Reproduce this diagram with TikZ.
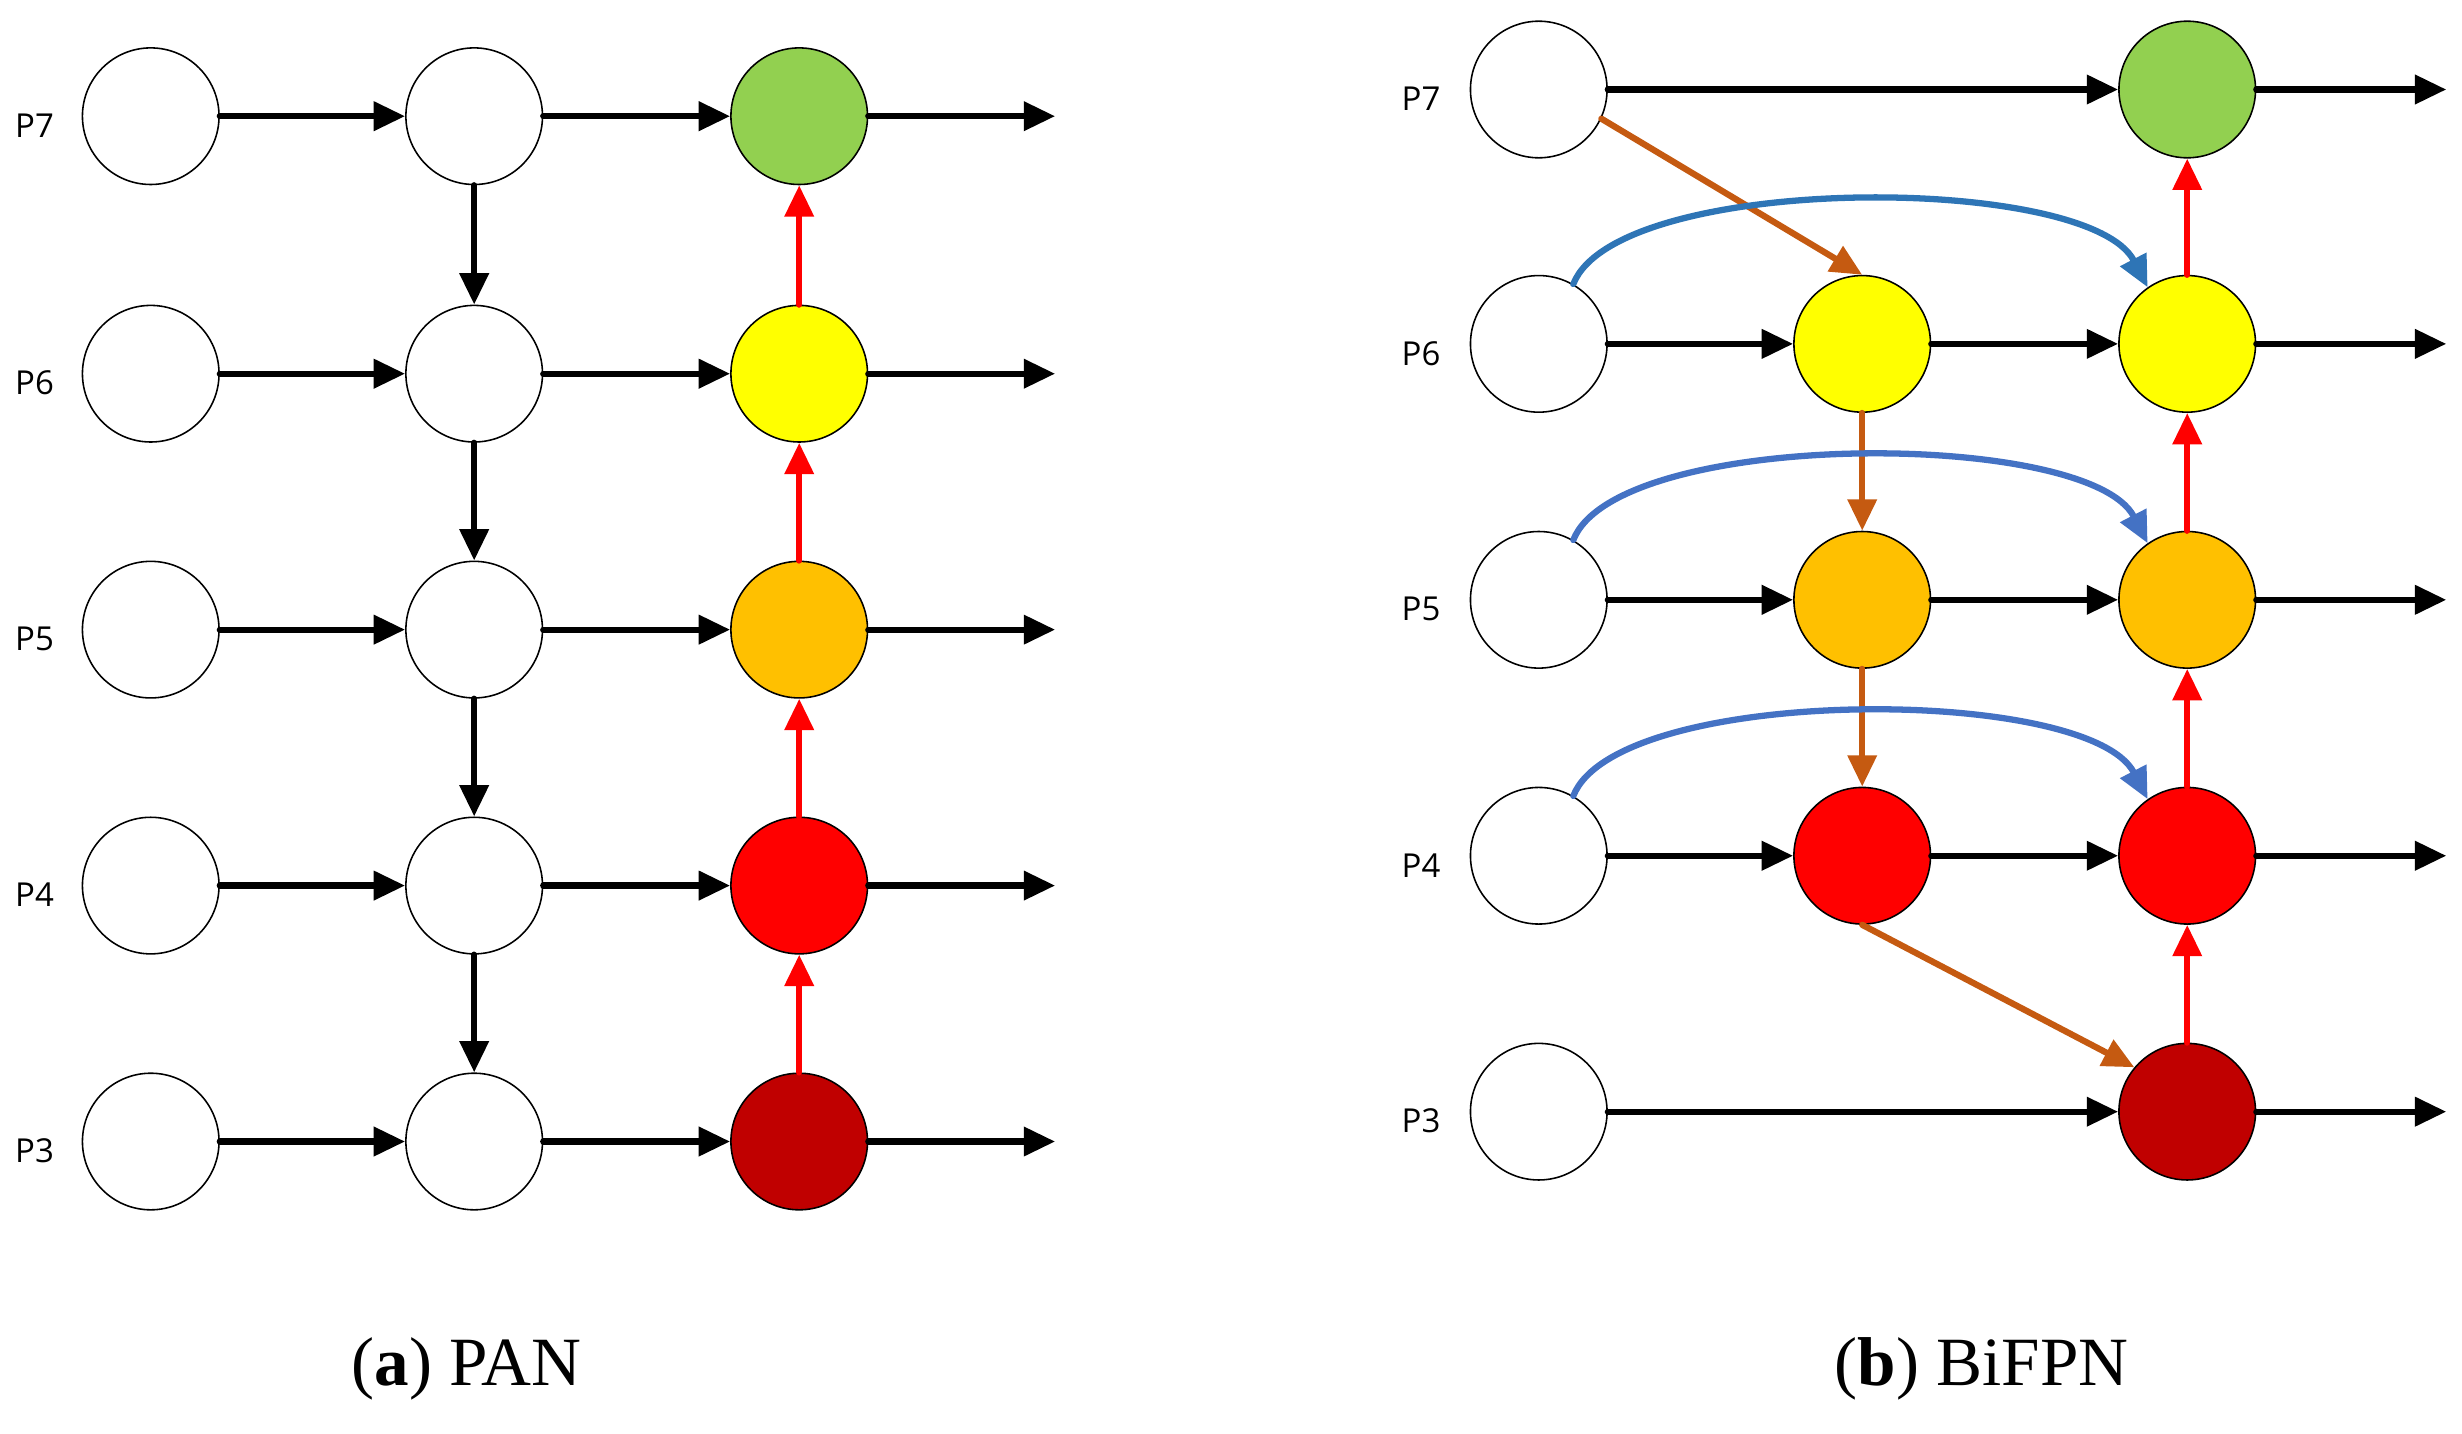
\documentclass[tikz,border=0pt]{standalone}
\usepackage{fontspec}
\setmainfont{Liberation Serif}
\newfontfamily\lab{Open Sans}
\usetikzlibrary{arrows.meta}
\definecolor{cgreen}{HTML}{92D050}
\definecolor{cyellow}{HTML}{FFFF00}
\definecolor{corange}{HTML}{FFC000}
\definecolor{cred}{HTML}{FF0000}
\definecolor{cdark}{HTML}{C00000}
\definecolor{cbrown}{HTML}{C55A11}
\definecolor{cblueA}{HTML}{2E75B6}
\definecolor{cblueB}{HTML}{4472C4}
\begin{document}
\begin{tikzpicture}[x=1pt,y=-1pt,
 nd/.style={circle,draw=black,line width=1pt,minimum size=87pt,inner sep=0pt,fill=white},
 lb/.style={font=\lab\fontsize{21}{24}\selectfont},
 ar/.style={line width=4pt,line cap=round,-{Triangle[length=20pt,width=18pt]}},
 blk/.style={ar,black},
 rd/.style={ar,cred},
 br/.style={ar,cbrown},
 captxt/.style={font=\fontsize{44}{50}\selectfont}]
\useasboundingbox (0,0) rectangle (1568,913);
% left panel
\foreach \i/\y/\c in {7/74/cgreen,6/238/cyellow,5/401/corange,4/564/cred,3/727/cdark}{
 \node[lb] (la\i) at (22,\y+6) {P\i};
 \node[nd] (a\i) at (96,\y) {};
 \node[nd] (b\i) at (302,\y) {};
 \node[nd,fill=\c] (c\i) at (509,\y) {};
 \coordinate (oa\i) at (672,\y);
 \draw[blk] (a\i) -- (b\i);
 \draw[blk] (b\i) -- (c\i);
 \draw[blk] (c\i.east) -- (oa\i);
}
\foreach \u/\d in {7/6,6/5,5/4,4/3}{
 \draw[blk] (b\u) -- (b\d);
 \draw[rd] (c\d) -- (c\u);
}
% right panel
\foreach \i/\y in {7/57,6/219,5/382,4/545,3/708}{
 \node[lb] (lr\i) at (905,\y+6) {P\i};
 \node[nd] (d\i) at (980,\y) {};
 \coordinate (ob\i) at (1558,\y);
}
\foreach \i/\y/\c in {6/219/cyellow,5/382/corange,4/545/cred}{
 \node[nd,fill=\c] (e\i) at (1186,\y) {};
}
\foreach \i/\y/\c in {7/57/cgreen,6/219/cyellow,5/382/corange,4/545/cred,3/708/cdark}{
 \node[nd,fill=\c] (f\i) at (1393,\y) {};
 \draw[blk] (f\i.east) -- (ob\i);
}
\draw[blk] (d7) -- (f7);
\draw[blk] (d3) -- (f3);
\foreach \i in {6,5,4}{
 \draw[blk] (d\i) -- (e\i);
 \draw[blk] (e\i) -- (f\i);
}
\draw[br] (d7.-25) -- (e6.north);
\draw[br] (e6) -- (e5);
\draw[br] (e5) -- (e4);
\draw[br] (e4.south) -- (f3.140);
\foreach \u/\d in {7/6,6/5,5/4,4/3}{ \draw[rd] (f\d) -- (f\u); }
\draw[ar,cblueA] (d6.60) .. controls (1030,110) and (1330,110) .. (f6.125);
\draw[ar,cblueB] (d5.60) .. controls (1030,273) and (1330,273) .. (f5.125);
\draw[ar,cblueB] (d4.60) .. controls (1030,436) and (1330,436) .. (f4.125);
% captions
\node[captxt] (ca) at (297,872) {(\textbf{a}) PAN};
\node[captxt] (cb) at (1262,872) {(\textbf{b}) BiFPN};
\end{tikzpicture}
\end{document}
